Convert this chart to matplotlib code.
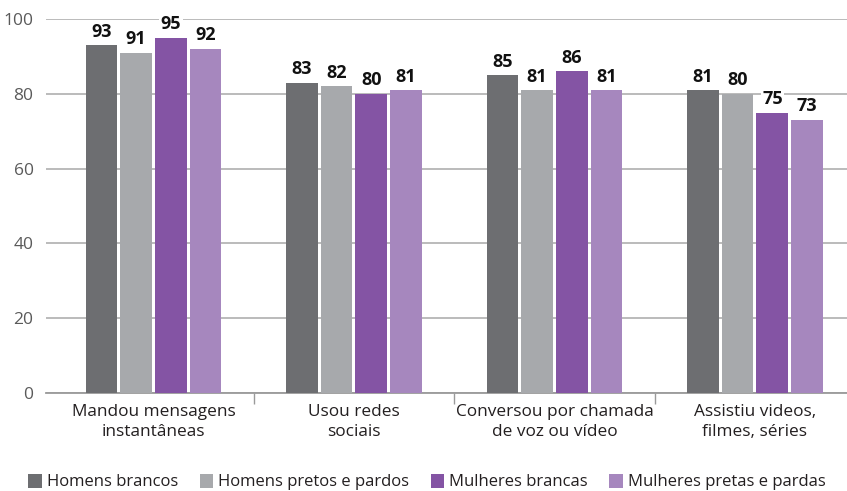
import matplotlib
matplotlib.use("Agg")
import matplotlib.pyplot as plt
import numpy as np
from matplotlib.patches import Patch

categories = ["Mandou mensagens\ninstantâneas", "Usou redes\nsociais",
              "Conversou por chamada\nde voz ou vídeo", "Assistiu videos,\nfilmes, séries"]
series_names = ["Homens brancos", "Homens pretos e pardos", "Mulheres brancas", "Mulheres pretas e pardas"]
homens_brancos = [93, 83, 85, 81]
homens_pretos = [91, 82, 81, 80]
mulheres_brancas = [95, 80, 86, 75]
mulheres_pretas = [92, 81, 81, 73]
yticks = [0, 20, 40, 60, 80, 100]

colors = ["#6d6e71", "#a7a9ac", "#8454a4", "#a687be"]
series = [homens_brancos, homens_pretos, mulheres_brancas, mulheres_pretas]

plt.rcParams['font.family'] = ['Open Sans', 'DejaVu Sans']

W, H = 847, 491
fig = plt.figure(figsize=(W/100, H/100), dpi=100)
left, right, top, bottom = 46, 847, 19, 393
ax = fig.add_axes([left/W, 1-bottom/H, (right-left)/W, (bottom-top)/H])

x = np.arange(len(categories))
pitch = 0.173
bw = 0.158
for i, (vals, c) in enumerate(zip(series, colors)):
    pos = x + (i - 1.5) * pitch
    ax.bar(pos, vals, width=bw, color=c, zorder=3)
    for xp, v in zip(pos, vals):
        ax.text(xp, v + 1.2, f"{v}", ha="center", va="bottom", fontsize=13,
                fontweight="bold", color="#111111", zorder=4,
                bbox=dict(facecolor="white", edgecolor="none", pad=1.0))

ax.set_xlim(-0.536, 3.459)
ax.set_ylim(0, 100)
ax.set_yticks(yticks)
ax.set_yticklabels([str(t) for t in yticks], fontsize=12.5, color="#5a5a5a")
ax.tick_params(axis="y", length=0, pad=9)
ax.yaxis.grid(True, color="#b5b5b5", linewidth=1.3, zorder=0)
ax.set_axisbelow(True)

ax.set_xticks(x)
ax.set_xticklabels(categories, fontsize=12.4, color="#231f20", linespacing=1.3)
ax.tick_params(axis="x", length=0, pad=8)
ax.set_xticks([0.5, 1.5, 2.5], minor=True)
ax.tick_params(axis="x", which="minor", length=8, width=1, color="#9a9a9a", direction="out")

for s in ["top", "right", "left"]:
    ax.spines[s].set_visible(False)
ax.spines["bottom"].set_color("#9a9a9a")
ax.spines["bottom"].set_linewidth(1.3)

handles = [Patch(facecolor=c, edgecolor="none") for c in colors]
fig.legend(handles, series_names, loc="center", bbox_to_anchor=(0.504, 1-482/H), ncol=4,
           frameon=False, fontsize=12, handlelength=0.8, handleheight=0.95,
           handletextpad=0.3, columnspacing=1.3, labelcolor="#231f20",
           borderpad=0.1)

fig.savefig("out.png", dpi=100)
